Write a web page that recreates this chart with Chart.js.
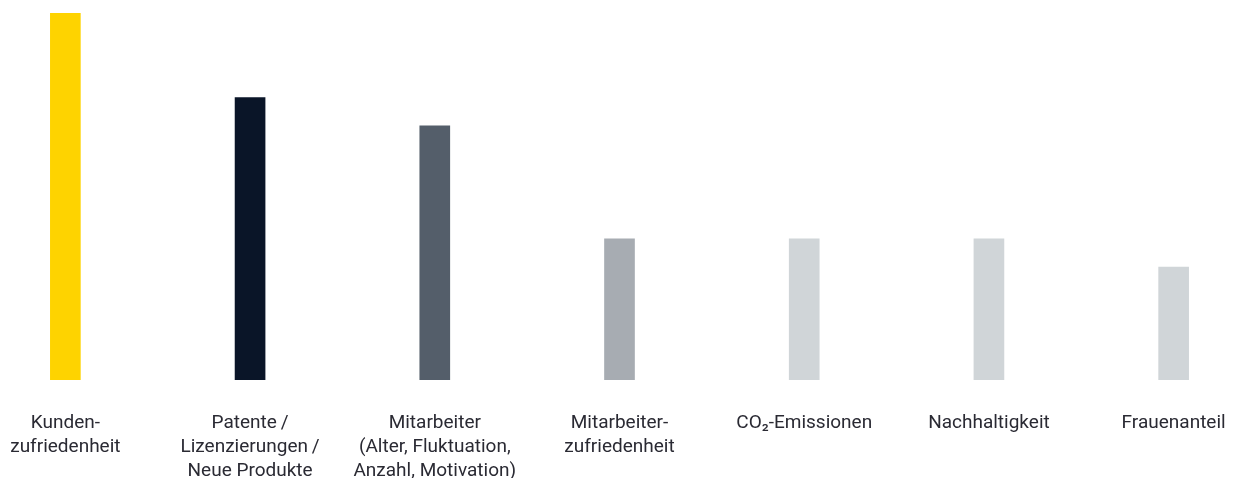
<!DOCTYPE html>
<html>
<head>
<meta charset="utf-8">
<script src="https://cdn.jsdelivr.net/npm/chart.js@4"></script>
<style>
  html, body { margin: 0; padding: 0; background: #fff; overflow: hidden; }
  #wrap { position: relative; width: 1293px; height: 514px; margin-left: -27px; }
</style>
</head>
<body>
<div id="wrap"><canvas id="barChart"></canvas></div>
<script>
// Kategorien (mehrzeilige Beschriftungen)
const categories = [
  ['Kunden-', 'zufriedenheit'],
  ['Patente\u2009/', 'Lizenzierungen\u2009/', 'Neue Produkte'],
  ['Mitarbeiter', '(Alter, Fluktuation,', 'Anzahl, Motivation)'],
  ['Mitarbeiter-', 'zufriedenheit'],
  'CO\u2082-Emissionen',
  'Nachhaltigkeit',
  'Frauenanteil'
];

const values = [13, 10, 9, 5, 5, 5, 4];

const barColors = ['#FED300', '#0A1528', '#545E6A', '#A7ACB2', '#D0D5D8', '#D0D5D8', '#D0D5D8'];

const barChart = new Chart(document.getElementById('barChart'), {
  type: 'bar',
  data: {
    labels: categories,
    datasets: [{
      data: values,
      backgroundColor: barColors,
      borderWidth: 0,
      barThickness: 30
    }]
  },
  options: {
    responsive: true,
    maintainAspectRatio: false,
    animation: false,
    layout: { padding: { top: 13, left: 0, right: 0, bottom: 0 } },
    plugins: { legend: { display: false }, tooltip: { enabled: false } },
    scales: {
      x: {
        grid: { display: false, drawTicks: false },
        border: { display: false },
        ticks: {
          padding: 31,
          maxRotation: 0,
          autoSkip: false,
          color: '#2A2A33',
          font: { family: 'Roboto', size: 19, lineHeight: 24 / 19 }
        }
      },
      y: {
        display: false,
        min: 0,
        max: 13
      }
    }
  }
});
</script>
</body>
</html>
